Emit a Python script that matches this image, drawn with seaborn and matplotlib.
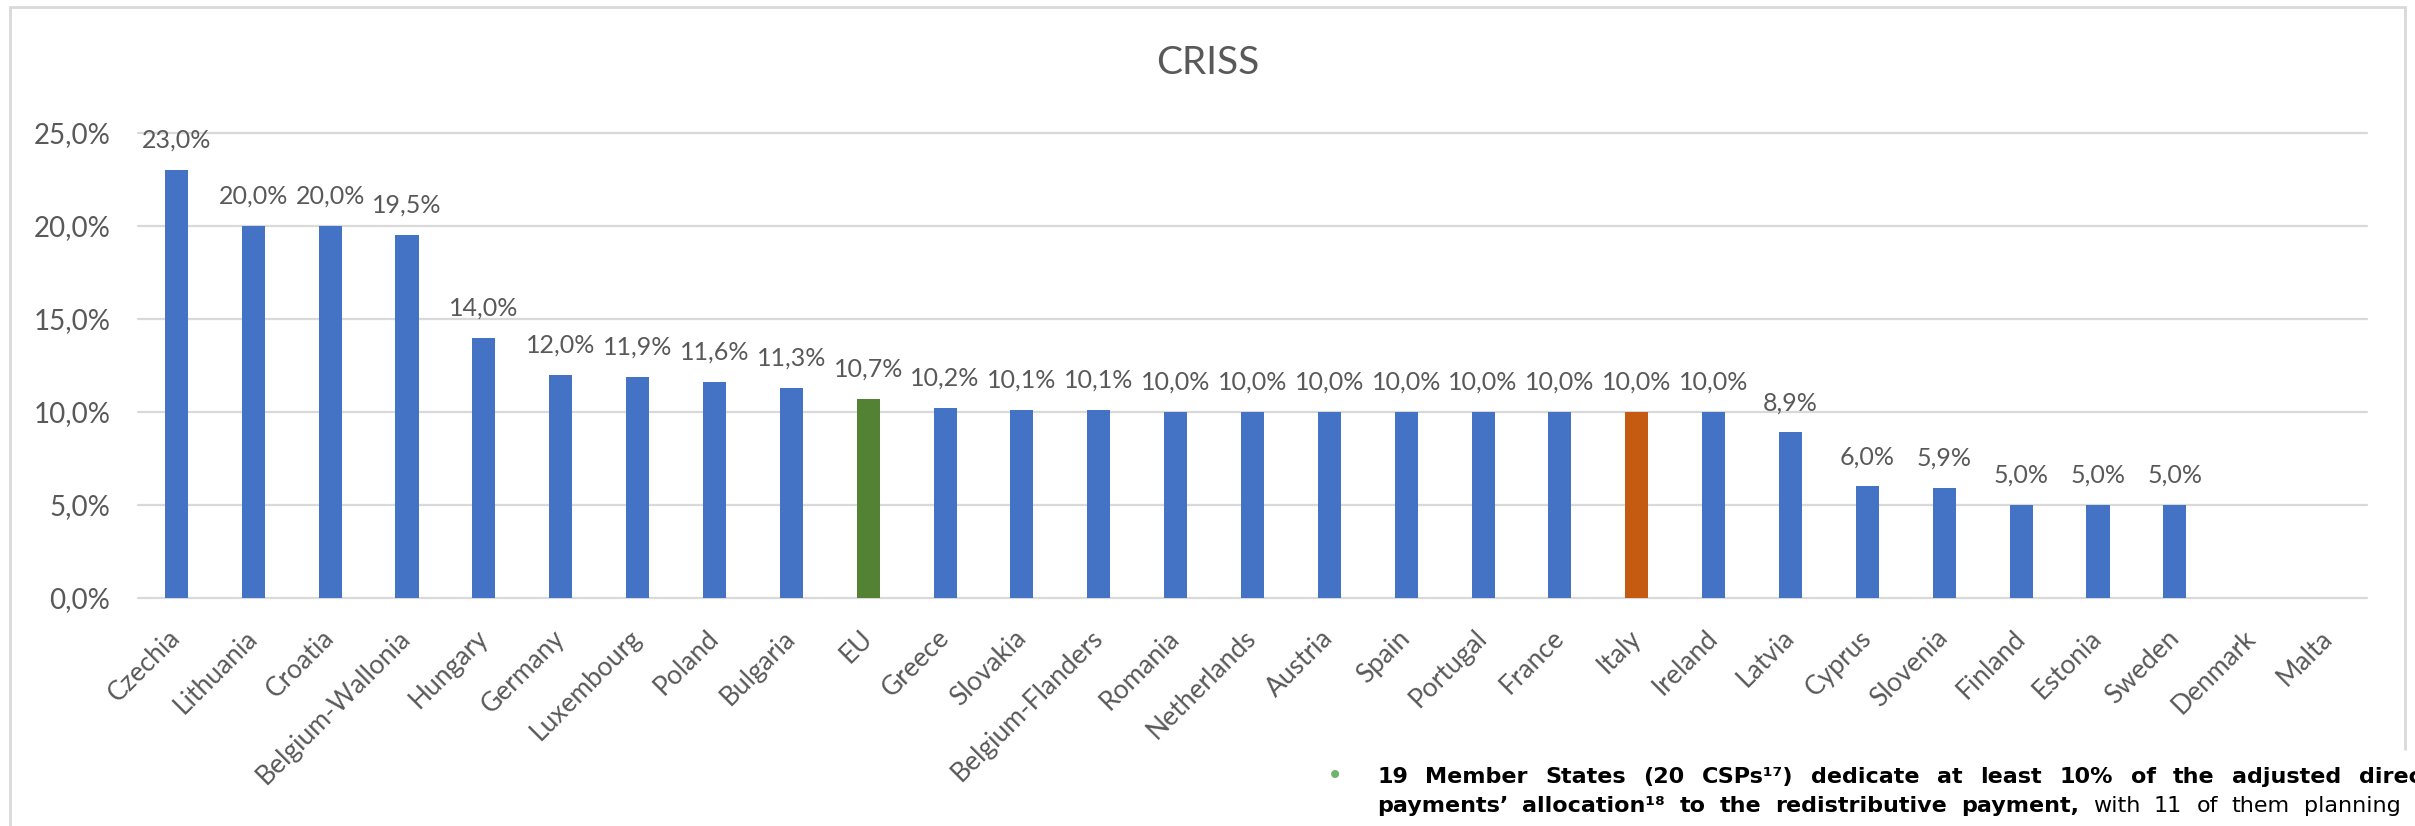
import matplotlib
matplotlib.use('Agg')
import matplotlib.pyplot as plt
from matplotlib.lines import Line2D
import seaborn as sns
import pandas as pd

# values (share of direct payments, %)
countries = ['Czechia', 'Lithuania', 'Croatia', 'Belgium-Wallonia', 'Hungary', 'Germany',
             'Luxembourg', 'Poland', 'Bulgaria', 'EU', 'Greece', 'Slovakia', 'Belgium-Flanders',
             'Romania', 'Netherlands', 'Austria', 'Spain', 'Portugal', 'France', 'Italy',
             'Ireland', 'Latvia', 'Cyprus', 'Slovenia', 'Finland', 'Estonia', 'Sweden',
             'Denmark', 'Malta']
shares = [23.0, 20.0, 20.0, 19.5, 14.0, 12.0, 11.9, 11.6, 11.3, 10.7, 10.2, 10.1, 10.1,
          10.0, 10.0, 10.0, 10.0, 10.0, 10.0, 10.0, 10.0, 8.9, 6.0, 5.9, 5.0, 5.0, 5.0,
          0.0, 0.0]
highlight = {'EU': '#548235', 'Italy': '#C55A11'}
yticks = [0.0, 0.05, 0.10, 0.15, 0.20, 0.25]

# report text that overlaps the bottom of the screenshot
line1_bold = '19 Member States (20 CSPs\u00b9\u2077) dedicate at least 10% of the adjusted direct'
line2_bold = 'payments\u2019 allocation\u00b9\u2078 to the redistributive payment,'
line2_rest = 'with 11 of them planning to'

W, H = 2415, 826
GREY = '#595959'
LINE = '#D9D9D9'

sns.set_style('white')
plt.rcParams['font.family'] = ['Lato', 'DejaVu Sans']

df = pd.DataFrame({'country': countries, 'share': [v / 100 for v in shares]})
palette = {c: highlight.get(c, '#4472C4') for c in countries}

fig = plt.figure(figsize=(W / 100, H / 100), dpi=100)
ax = fig.add_axes([138 / W, 1 - 598 / H, (2367 - 138) / W, (598 - 133) / H])

sns.barplot(data=df, x='country', y='share', hue='country', palette=palette,
            order=countries, width=0.3, saturation=1, linewidth=0, legend=False, ax=ax)

# data labels
for i, v in enumerate(shares):
    if v > 0:
        ax.annotate(f"{v:.1f}%".replace('.', ','), (i, v / 100), xytext=(0, 16),
                    textcoords='offset points', ha='center', va='baseline',
                    fontsize=18, color=GREY)

ax.set_xlim(-0.5, len(countries) - 0.5)
ax.set_ylim(0, 0.25)
ax.set_yticks(yticks)
ax.set_yticklabels([f"{t * 100:.1f}%".replace('.', ',') for t in yticks])
ax.tick_params(axis='y', length=0, pad=20, labelsize=20, labelcolor=GREY)
ax.tick_params(axis='x', length=0, pad=26, labelsize=19, labelcolor=GREY)
ax.set_xticks(range(len(countries)))
ax.set_xticklabels(countries, rotation=45, ha='right', va='center', rotation_mode='anchor')
ax.set_xlabel('')
ax.set_ylabel('')
ax.yaxis.grid(True, color=LINE, lw=1.6)
for gl in ax.get_ygridlines():
    gl.set_clip_on(False)
ax.set_axisbelow(True)
sns.despine(ax=ax, left=True, bottom=True)

fig.text(1208 / W, 1 - 63 / H, 'CRISS', ha='center', va='center', fontsize=28, color=GREY)

# chart frame (screenshot cut at the bottom)
def px_line(xs, ys):
    fig.add_artist(Line2D([x / W for x in xs], [1 - y / H for y in ys],
                          transform=fig.transFigure, color=LINE, lw=2))

px_line([10, 10], [7, 826])
px_line([10, 2405], [7, 7])
px_line([2405, 2405], [7, 749])


def justified(words, x, y, gap_px, weight='bold', prev=None):
    """place words one after another with a wider (justified) gap"""
    style = dict(fontsize=16, family='DejaVu Sans', fontweight=weight, color='black')
    for w in words.split(' '):
        if prev is None:
            prev = fig.text(x / W, 1 - y / H, w, va='baseline', **style)
        else:
            prev = ax.annotate(w, xy=(1, 0), xycoords=prev, xytext=(gap_px * 0.72, 0),
                               textcoords='offset points', va='bottom', ha='left',
                               annotation_clip=False, **style)
    return prev


fig.text(1335 / W, 1 - 776 / H, '\u2022', ha='center', va='center', fontsize=20,
         color='#6FB36F', family='DejaVu Sans')
justified(line1_bold, 1377, 783, 17.5)
last = justified(line2_bold, 1377, 812, 14)
justified(line2_rest, 0, 0, 14, weight='normal', prev=last)

fig.savefig('out.png', dpi=100, facecolor='white')
